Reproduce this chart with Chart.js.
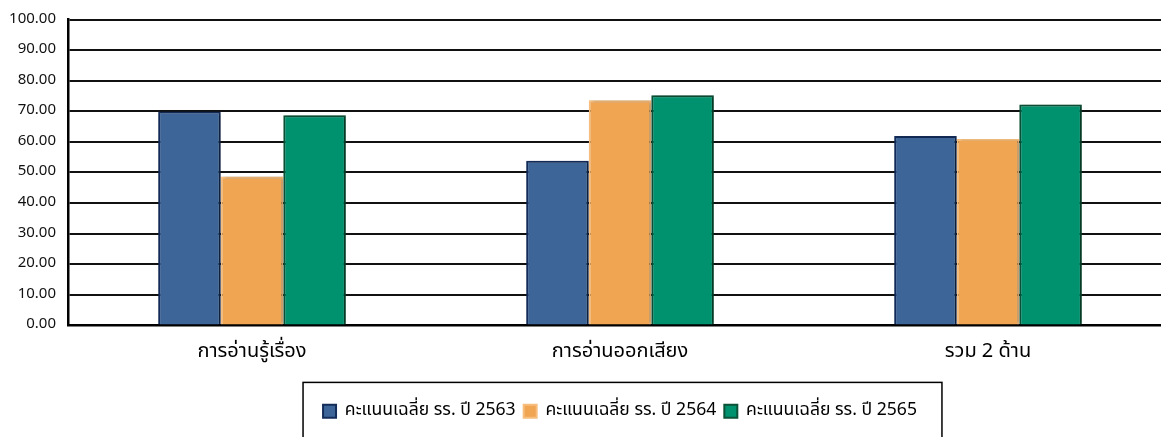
<!DOCTYPE html>
<html>
<head>
<meta charset="utf-8">
<script src="https://cdn.jsdelivr.net/npm/chart.js@4.4.0/dist/chart.umd.min.js"></script>
<style>
html,body{margin:0;padding:0;background:#fff;overflow:hidden;width:1161px;height:437px;}
#wrap{position:absolute;left:0;top:0;width:1172px;height:437px;}
</style>
</head>
<body>
<div id="wrap"><canvas id="c" width="1172" height="437"></canvas></div>
<script>
const categories = ['การอ่านรู้เรื่อง', 'การอ่านออกเสียง', 'รวม 2 ด้าน'];
const seriesNames = ['คะแนนเฉลี่ย รร. ปี 2563', 'คะแนนเฉลี่ย รร. ปี 2564', 'คะแนนเฉลี่ย รร. ปี 2565'];
const score2563 = [69.9, 53.8, 61.9];
const score2564 = [48.7, 73.6, 60.9];
const score2565 = [68.7, 75.2, 72.2];
const yTicks = [0, 10, 20, 30, 40, 50, 60, 70, 80, 90, 100];

const FONT = "Tahoma, 'Noto Sans Thai', 'Noto Sans', 'DejaVu Sans', sans-serif";

const barShadow = {
  id: 'barShadow',
  beforeDatasetsDraw(chart) {
    const ctx = chart.ctx;
    ctx.save();
    ctx.shadowColor = 'rgba(0,0,0,0.35)';
    ctx.shadowBlur = 3;
    ctx.shadowOffsetX = 2;
    ctx.shadowOffsetY = 0;
  },
  afterDatasetsDraw(chart) { chart.ctx.restore(); }
};

const legendFrame = {
  id: 'legendFrame',
  afterDraw(chart) {
    const lg = chart.legend;
    if (!lg || !lg.legendHitBoxes || !lg.legendHitBoxes.length) return;
    const hb = lg.legendHitBoxes;
    const first = hb[0], last = hb[hb.length - 1];
    const ctx = chart.ctx;
    const l = first.left - 20, r = last.left + last.width + 25;
    const t = first.top - 20;
    ctx.save();
    ctx.strokeStyle = '#000';
    ctx.lineWidth = 1.5;
    ctx.strokeRect(l, t, r - l, chart.height + 20 - t);
    ctx.restore();
  }
};

new Chart(document.getElementById('c'), {
  type: 'bar',
  data: {
    labels: categories,
    datasets: [
      { label: seriesNames[0], data: score2563, backgroundColor: '#3d6597', borderColor: '#132c58', borderWidth: 2 },
      { label: seriesNames[1], data: score2564, backgroundColor: '#f0a553', borderColor: '#f6bd7c', borderWidth: 2 },
      { label: seriesNames[2], data: score2565, backgroundColor: '#00926f', borderColor: '#0b5236', borderWidth: 2 }
    ]
  },
  options: {
    responsive: false,
    animation: false,
    layout: { padding: { left: 0, right: 0, top: 0, bottom: 7 } },
    datasets: { bar: { categoryPercentage: 0.51, barPercentage: 1.0 } },
    scales: {
      x: {
        afterFit(s) { s.height = 69; },
        grid: { display: false, drawTicks: false },
        border: { display: true, color: '#000', width: 2.5 },
        ticks: { color: '#000', font: { family: FONT, size: 20 }, padding: 16 }
      },
      y: {
        min: 0, max: 100,
        afterFit(s) { s.width = 68; },
        afterBuildTicks(s) { s.ticks = yTicks.map(v => ({ value: v })); },
        grid: { color: '#111', lineWidth: 2, drawTicks: false },
        border: { display: true, color: '#000', width: 2.5 },
        ticks: { color: '#111', font: { family: FONT, size: 15, lineHeight: 1.0 }, padding: 12,
                 callback: v => Number(v).toFixed(2) }
      }
    },
    plugins: {
      legend: {
        position: 'bottom',
        fullSize: false,
        labels: { color: '#000', font: { family: FONT, size: 17.6 }, boxWidth: 13, boxHeight: 13, padding: 8 }
      },
      tooltip: { enabled: false }
    }
  },
  plugins: [barShadow, legendFrame]
});
</script>
</body>
</html>
